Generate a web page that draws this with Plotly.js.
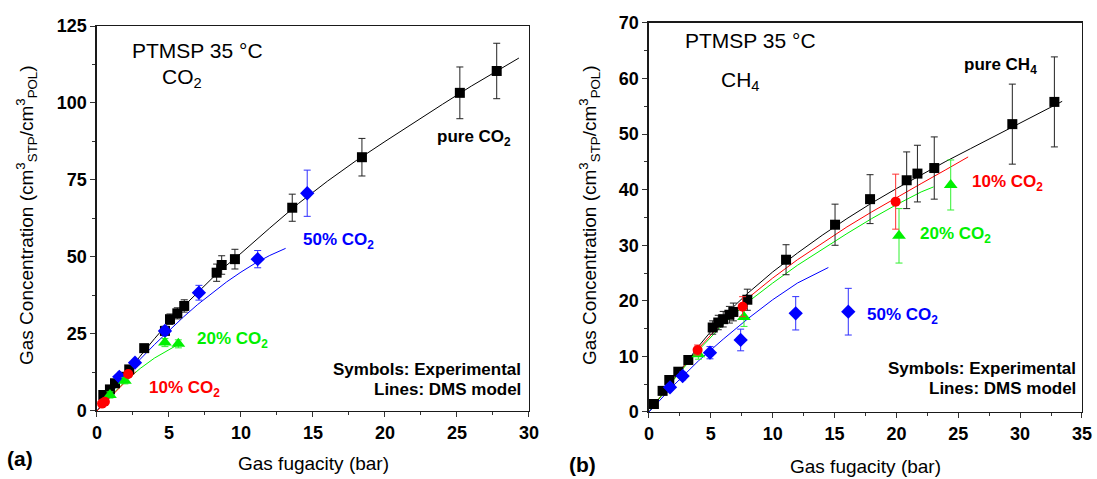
<!DOCTYPE html>
<html>
<head>
<meta charset="utf-8">
<script src="https://cdn.plot.ly/plotly-3.0.1.min.js"></script>
<style>html,body{margin:0;padding:0;background:#fff;}#chart{width:1097px;height:479px;}</style>
</head>
<body>
<div id="chart"></div>
<script>
// ---------- Panel (a): CO2 sorption ----------
const aPureX   = [0.44, 0.9, 1.25, 1.76, 2.24, 3.28, 4.72, 5.07, 5.58, 6.06, 8.31, 8.66, 9.58, 13.56, 18.4, 25.2, 27.76];
const aPureY   = [5.2, 7.0, 9.0, 11.1, 13.5, 20.4, 26.0, 29.8, 31.7, 34.1, 44.9, 47.4, 49.3, 66.0, 82.4, 103.3, 110.4];
const aPureErr = [0.4, 0.5, 0.6, 0.7, 0.8, 1.2, 1.5, 1.7, 1.8, 2.0, 2.8, 3.0, 3.2, 4.4, 6.1, 8.4, 9.0];
const a50X   = [1.55, 2.64, 4.72, 7.08, 11.16, 14.6];
const a50Y   = [11.1, 15.7, 26.0, 38.4, 49.3, 70.7];
const a50Err = [0.6, 0.9, 1.3, 2.4, 2.8, 7.5];
const a20X   = [0.9, 1.94, 4.72, 5.65];
const a20Y   = [5.2, 9.8, 22.2, 21.8];
const a20Err = [1.0, 1.0, 1.3, 1.3];
const a10X   = [0.35, 0.55, 2.17];
const a10Y   = [2.4, 3.0, 12.0];
const a10Err = [0.3, 0.3, 0.8];
// DMS model lines (panel a)
const aLinePureX = [0, 1, 2, 3, 4, 5, 6, 7, 8, 9, 10, 12, 14, 16, 18, 20, 22, 24, 26, 28, 29.3];
const aLinePureY = [0, 6.0, 12.0, 17.8, 23.5, 28.9, 33.9, 38.6, 43.1, 47.3, 51.2, 59.4, 67.4, 74.6, 81.3, 87.5, 93.6, 99.6, 105.5, 111.1, 114.6];
const aLine50X = [0, 1, 2, 3, 4, 5, 6, 7, 8, 9, 10, 11, 12, 13.1];
const aLine50Y = [0, 6.0, 11.6, 16.8, 21.6, 26.2, 30.5, 34.6, 38.4, 41.9, 45.1, 48.0, 50.5, 52.8];
const aLine20X = [0, 1, 2, 3, 4, 5, 5.6];
const aLine20Y = [0, 5.1, 9.8, 13.8, 17.2, 19.9, 21.5];
const aLine10X = [0, 1, 2, 2.7];
const aLine10Y = [0, 4.9, 9.6, 12.7];
// tick values (panel a)
const aXTicks = [0, 5, 10, 15, 20, 25, 30];
const aYTicks = [0, 25, 50, 75, 100, 125];

// ---------- Panel (b): CH4 sorption ----------
const bPureX   = [0.40, 1.1, 1.64, 2.37, 3.18, 5.15, 5.6, 6.0, 6.5, 6.82, 7.95, 11.08, 15.04, 17.87, 20.83, 21.7, 23.06, 29.37, 32.77];
const bPureY   = [1.44, 3.8, 5.76, 7.25, 9.36, 15.2, 16.1, 16.7, 17.5, 18.0, 20.2, 27.4, 33.7, 38.3, 41.7, 42.9, 43.9, 51.8, 55.8];
const bPureErr = [0.2, 0.3, 0.4, 0.5, 0.6, 1.2, 1.3, 1.4, 1.5, 1.6, 1.9, 2.7, 3.7, 4.4, 5.1, 5.1, 5.6, 7.2, 8.1];
const b10X   = [3.93, 7.57, 19.94];
const b10Y   = [11.15, 18.95, 37.85];
const b10Err = [0.9, 1.8, 4.95];
const b20X   = [3.99, 7.68, 20.21, 24.39];
const b20Y   = [10.4, 17.1, 31.7, 40.85];
const b20Err = [0.9, 1.7, 4.9, 4.5];
const b50X   = [1.7, 2.72, 4.93, 7.41, 11.86, 16.11];
const b50Y   = [4.44, 6.48, 10.67, 12.96, 17.76, 18.05];
const b50Err = [0.5, 0.7, 1.1, 1.95, 3.0, 4.2];
// DMS model lines (panel b)
const bLinePureX = [0, 1, 2, 3, 4, 5, 6, 7, 8, 10, 12, 14, 16, 18, 20, 22, 24, 26, 28, 30, 32, 33.4];
const bLinePureY = [0, 3.0, 6.0, 9.0, 11.8, 14.5, 17.0, 19.3, 21.4, 25.2, 28.6, 31.8, 34.8, 37.6, 40.2, 42.7, 45.1, 47.4, 49.7, 52.0, 54.3, 55.9];
const bLine10X = [0, 2, 4, 6, 8, 10, 12, 14, 16, 18, 20, 22, 24, 25.8];
const bLine10Y = [0, 5.9, 11.4, 16.3, 20.5, 24.1, 27.4, 30.4, 33.3, 36.0, 38.6, 41.1, 43.6, 45.9];
const bLine20X = [0, 2, 4, 6, 8, 10, 12, 14, 16, 18, 20, 22, 23];
const bLine20Y = [0, 5.8, 11.1, 15.8, 19.8, 23.2, 26.4, 29.3, 32.1, 34.8, 37.3, 39.6, 40.5];
const bLine50X = [0, 2, 4, 5, 6, 8, 10, 12, 14.5];
const bLine50Y = [0, 4.8, 9.2, 11.2, 13.1, 16.8, 20.2, 23.2, 26.0];
// tick values (panel b)
const bXTicks = [0, 5, 10, 15, 20, 25, 30, 35];
const bYTicks = [0, 10, 20, 30, 40, 50, 60, 70];

const BLACK = '#000000', BLUE = '#0000ff', GREEN = '#00f000', RED = '#ff0000';
const FONT = 'Liberation Sans, Arial, sans-serif';

function line(x, y, color, ax) {
  return {x: x, y: y, type: 'scatter', mode: 'lines', line: {color: color, width: 1},
          xaxis: ax[0], yaxis: ax[1], hoverinfo: 'skip', cliponaxis: false};
}
function pts(x, y, err, color, errColor, symbol, size, ax) {
  return {x: x, y: y, type: 'scatter', mode: 'markers',
          marker: {color: color, symbol: symbol, size: size, line: {width: 0}},
          error_y: {type: 'data', array: err, visible: true, color: errColor, thickness: 1, width: 3.5},
          xaxis: ax[0], yaxis: ax[1], cliponaxis: false};
}
const A = ['x', 'y'], B = ['x2', 'y2'];

const traces = [
  line(aLinePureX, aLinePureY, BLACK, A),
  line(aLine50X, aLine50Y, BLUE, A),
  line(aLine20X, aLine20Y, GREEN, A),
  line(aLine10X, aLine10Y, RED, A),
  pts(aPureX, aPureY, aPureErr, BLACK, '#222222', 'square', 10, A),
  pts(a50X, a50Y, a50Err, BLUE, '#3030ff', 'diamond', 11, A),
  pts(a20X, a20Y, a20Err, GREEN, '#30f030', 'triangle-up', 12, A),
  pts(a10X, a10Y, a10Err, RED, '#ff3030', 'circle', 10, A),

  line(bLinePureX, bLinePureY, BLACK, B),
  line(bLine10X, bLine10Y, RED, B),
  line(bLine20X, bLine20Y, GREEN, B),
  line(bLine50X, bLine50Y, BLUE, B),
  pts(bPureX, bPureY, bPureErr, BLACK, '#222222', 'square', 10, B),
  pts(b50X, b50Y, b50Err, BLUE, '#3030ff', 'diamond', 11, B),
  pts(b20X, b20Y, b20Err, GREEN, '#30f030', 'triangle-up', 12, B),
  pts(b10X, b10Y, b10Err, RED, '#ff3030', 'circle', 10, B)
];

function axis(range, ticks, minorDtick, domain, anchor) {
  return {
    range: range, domain: domain, anchor: anchor,
    tickmode: 'array', tickvals: ticks, ticktext: ticks.map(v => '<b>' + v + '</b>'),
    showgrid: false, zeroline: false,
    showline: true, mirror: true, linecolor: '#1a1a1a', linewidth: 1.5,
    ticks: 'outside', ticklen: 5, tickwidth: 1, tickcolor: '#333',
    minor: {dtick: minorDtick, tick0: 0, ticks: 'outside', ticklen: 3, tickwidth: 1, tickcolor: '#333', showgrid: false},
    tickfont: {family: FONT, size: 18, color: '#000', weight: 'bold'},
    fixedrange: true
  };
}

const layout = {
  width: 1097, height: 479,
  margin: {l: 0, r: 0, t: 0, b: 0},
  paper_bgcolor: '#fff', plot_bgcolor: '#fff',
  showlegend: false,
  font: {family: FONT, color: '#000'},
  xaxis:  axis([0, 30], aXTicks, 2.5, [0.0884, 0.4822], 'y'),
  yaxis:  axis([0, 125], aYTicks, 12.5, [0.1420, 0.9457], 'x'),
  xaxis2: axis([0, 35], bXTicks, 2.5, [0.5916, 0.9863], 'y2'),
  yaxis2: axis([0, 70], bYTicks, 5, [0.1399, 0.9520], 'x2'),
  annotations: []
};

function ann(text, x, y, xref, yref, opts) {
  const o = Object.assign({text: text, x: x, y: y, xref: xref, yref: yref, showarrow: false,
    xanchor: 'center', yanchor: 'middle', font: {family: FONT, size: 17, color: '#000'}}, opts || {});
  layout.annotations.push(o);
}
const bold = (size, color) => ({family: FONT, size: size, color: color || '#000', weight: 'bold'});
const reg = (size, color) => ({family: FONT, size: size, color: color || '#000'});

// Panel (a) labels
ann('PTMSP 35 °C', 6.98, 117.0, 'x', 'y', {font: reg(21)});
ann('CO<sub>2</sub>', 5.9, 108.2, 'x', 'y', {font: reg(21)});
ann('pure CO<sub>2</sub>', 26.15, 88.6, 'x', 'y', {font: bold(17)});
ann('50% CO<sub>2</sub>', 16.8, 55.2, 'x', 'y', {font: bold(17, BLUE)});
ann('20% CO<sub>2</sub>', 9.41, 23.0, 'x', 'y', {font: bold(17, GREEN)});
ann('10% CO<sub>2</sub>', 6.11, 7.1, 'x', 'y', {font: bold(17, RED)});
ann('Symbols: Experimental', 29.58, 13.6, 'x', 'y', {xanchor: 'right', font: bold(17)});
ann('Lines: DMS model', 29.58, 7.1, 'x', 'y', {xanchor: 'right', font: bold(17)});

// Panel (b) labels
ann('PTMSP 35 °C', 8.2, 66.8, 'x2', 'y2', {font: reg(21)});
ann('CH<sub>4</sub>', 7.4, 59.6, 'x2', 'y2', {font: reg(21)});
ann('pure CH<sub>4</sub>', 28.4, 62.3, 'x2', 'y2', {font: bold(17)});
ann('10% CO<sub>2</sub>', 28.98, 41.2, 'x2', 'y2', {font: bold(17, RED)});
ann('20% CO<sub>2</sub>', 24.74, 31.9, 'x2', 'y2', {font: bold(17, GREEN)});
ann('50% CO<sub>2</sub>', 20.49, 17.3, 'x2', 'y2', {font: bold(17, BLUE)});
ann('Symbols: Experimental', 34.68, 7.74, 'x2', 'y2', {xanchor: 'right', font: bold(17)});
ann('Lines: DMS model', 34.68, 4.14, 'x2', 'y2', {xanchor: 'right', font: bold(17)});

// Outer labels (paper coordinates)
const ytitle = 'Gas Concentration (cm<sup>3</sup><sub>STP</sub>/cm<sup>3</sup><sub>POL</sub>)';
ann('Gas fugacity (bar)', 313 / 1097, 1 - 463 / 479, 'paper', 'paper', {font: reg(19)});
ann('Gas fugacity (bar)', 865 / 1097, 1 - 466 / 479, 'paper', 'paper', {font: reg(19)});
ann(ytitle, 27 / 1097, 1 - 215 / 479, 'paper', 'paper', {textangle: -90, font: reg(19)});
ann(ytitle, 590 / 1097, 1 - 215 / 479, 'paper', 'paper', {textangle: -90, font: reg(19)});
ann('(a)', 20 / 1097, 1 - 458 / 479, 'paper', 'paper', {font: bold(21)});
ann('(b)', 582 / 1097, 1 - 464 / 479, 'paper', 'paper', {font: bold(21)});

Plotly.newPlot('chart', traces, layout, {staticPlot: true, displayModeBar: false});
</script>
</body>
</html>
